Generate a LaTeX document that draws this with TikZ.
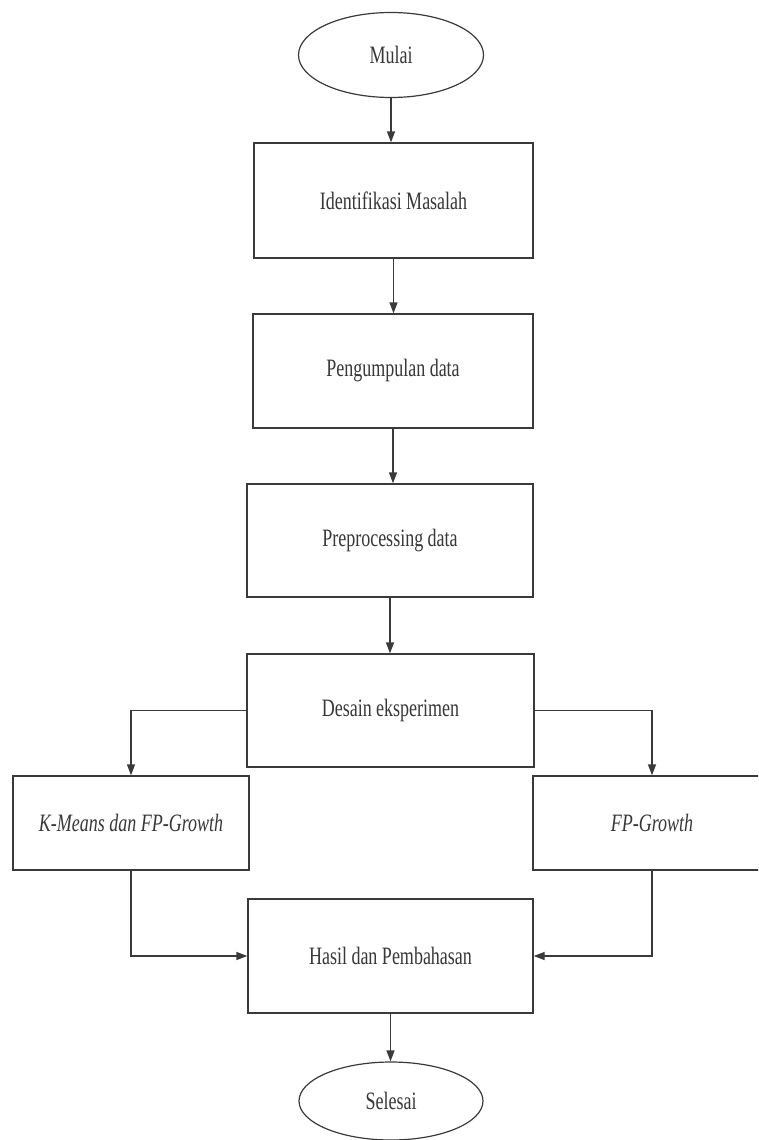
\documentclass[tikz,border=0pt]{standalone}
\usepackage{fontspec}
\setmainfont{Liberation Serif}[FakeStretch=0.72]
\usetikzlibrary{shapes.geometric,arrows.meta}
\definecolor{linec}{HTML}{3A3A3A}
\definecolor{textc}{HTML}{383838}
\begin{document}
\begin{tikzpicture}[x=1pt,y=-1pt,
  every node/.style={font=\fontsize{25}{28}\selectfont, text=textc},
  stepbox/.style={draw=linec, line width=1.3pt, rectangle, inner sep=0pt, fill=white},
  term/.style={draw=linec, line width=1.2pt, ellipse, inner sep=0pt, fill=white},
  arr/.style={draw=linec, line width=1.3pt, -{Triangle[length=11pt,width=8pt]}}]
\useasboundingbox (0,0) rectangle (758,1140);
\clip (0,0) rectangle (758,1140);
\node[term, minimum width=185pt, minimum height=85pt] (start) at (391,55) {Mulai};
\node[stepbox, minimum width=279pt, minimum height=115pt] (s1) at (393.5,200.5) {Identifikasi Masalah};
\node[stepbox, minimum width=280pt, minimum height=114pt] (s2) at (393,371) {Pengumpulan data};
\node[stepbox, minimum width=286pt, minimum height=113pt] (s3) at (390,540.5) {Preprocessing data};
\node[stepbox, minimum width=287pt, minimum height=113pt] (s4) at (390.5,710.5) {Desain eksperimen};
\node[stepbox, minimum width=236pt, minimum height=94pt] (s5) at (131,823) {\itshape K-Means dan FP-Growth};
\node[stepbox, minimum width=238pt, minimum height=94pt] (s6) at (652,823) {\itshape FP-Growth};
\node[stepbox, minimum width=285pt, minimum height=114pt] (s7) at (390.5,956) {Hasil dan Pembahasan};
\node[term, minimum width=184pt, minimum height=78pt] (end) at (391,1101) {Selesai};
\draw[arr] (start.south) -- (start.south |- s1.north);
\draw[arr] (s1.south) -- (s1.south |- s2.north);
\draw[arr] (s2.south) -- (s2.south |- s3.north);
\draw[arr] (s3.south) -- (s3.south |- s4.north);
\draw[arr] (s4.west) -| (s5.north);
\draw[arr] (s4.east) -| (s6.north);
\draw[arr] (s5.south) |- (s7.west);
\draw[arr] (s6.south) |- (s7.east);
\draw[arr] (s7.south) -- (s7.south |- end.north);
\end{tikzpicture}
\end{document}
